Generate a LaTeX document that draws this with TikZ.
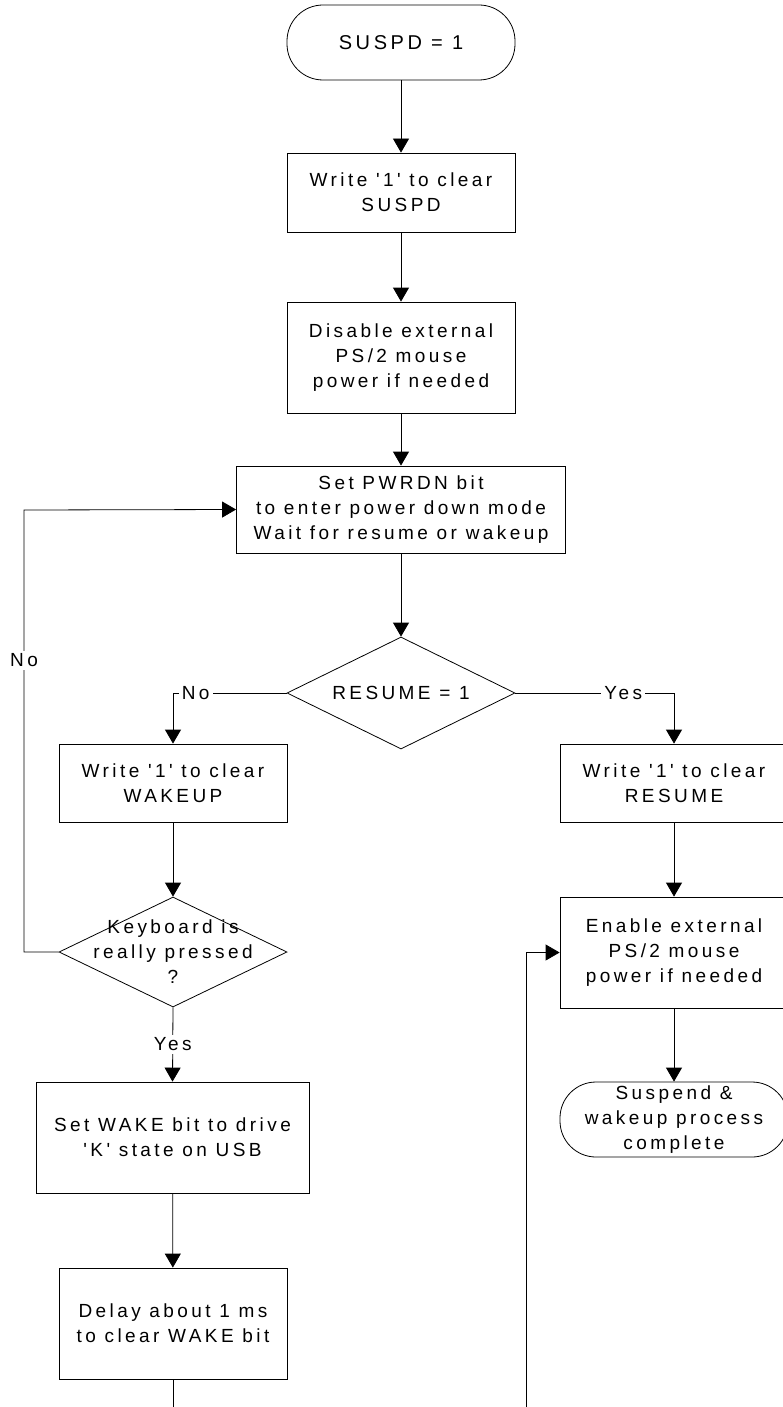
\documentclass[tikz,border=0pt]{standalone}
\usepackage{fontspec}
\newfontfamily\chartfont{Liberation Sans}[LetterSpace=18]
\usetikzlibrary{shapes.geometric,arrows.meta}

\begin{document}
\begin{tikzpicture}[x=1pt,y=-1pt,line width=0.8pt,font=\chartfont\fontsize{19}{25}\selectfont]
    \tikzset{box/.style = {shape=rectangle,draw,align=center,minimum width=228pt,minimum height=111pt,inner sep=0pt}}
    \tikzset{term/.style = {box,rounded corners=36pt,minimum height=75pt}}
    \tikzset{test/.style = {shape=diamond,draw,minimum width=228pt,minimum height=111pt,inner sep=0pt}}
    \tikzset{edge/.style = {-{Triangle[length=14pt,width=16pt]}}}
    \tikzset{tag/.style = {fill=white,inner sep=3pt}}
    \useasboundingbox (0,0) rectangle (783,1407);
    \node[term,font=\chartfont\fontsize{20}{25}\selectfont] (start) at (401,42.5) {SUSPD = 1};
    \node[box,minimum height=79pt] (clr) at (401,192.5) {Write '1' to clear\\SUSPD};
    \node[box] (dis) at (401,357.5) {Disable external\\PS/2 mouse\\power if needed};
    \node[box,minimum width=329pt,minimum height=87pt] (pwr) at (401,509.5) {Set PWRDN bit\\to enter power down mode\\Wait for resume or wakeup};
    \node[test,minimum height=112pt,label={center:RESUME = 1}] (res) at (401,693) {};
    \node[box,minimum height=78pt] (wk) at (173,783) {Write '1' to clear\\WAKEUP};
    \node[box,minimum height=78pt] (rs) at (674,783) {Write '1' to clear\\RESUME};
    \node[test,minimum height=110pt,label={[align=center]center:Keyboard is\\really pressed\\?}] (kbd) at (173,952) {};
    \node[box] (en) at (674,952.5) {Enable external\\PS/2 mouse\\power if needed};
    \node[term] (done) at (674,1119.5) {Suspend \&\\wakeup process\\complete};
    \node[box,minimum width=273pt] (wake) at (172.5,1137.5) {Set WAKE bit to drive\\'K' state on USB};
    \node[box] (dly) at (173,1323.5) {Delay about 1 ms\\to clear WAKE bit};
    \coordinate (loop) at (24,510);
    \coordinate (dlyout) at (173,1407);
    \coordinate (retin) at (526,1407);
    \draw[edge] (start) -- (clr);
    \draw[edge] (clr) -- (dis);
    \draw[edge] (dis) -- (pwr);
    \draw[edge] (pwr) -- (res);
    \draw[edge] (res.west) -| node[tag,pos=0.40] {No} (wk.north);
    \draw[edge] (res.east) -| node[tag,pos=0.34] {Yes} (rs.north);
    \draw[edge] (wk) -- (kbd);
    \draw[edge] (rs) -- (en);
    \draw[edge] (en) -- (done);
    \draw[edge] (kbd.west) -| node[tag,pos=0.83] {No} (loop) -- (pwr.west);
    \draw[edge] (kbd.south) -- node[tag] {Yes} (wake.north);
    \draw[edge] (wake) -- (dly);
    \draw (dly) -- (dlyout);
    \draw[edge] (retin) |- (en.west);
\end{tikzpicture}
\end{document}
